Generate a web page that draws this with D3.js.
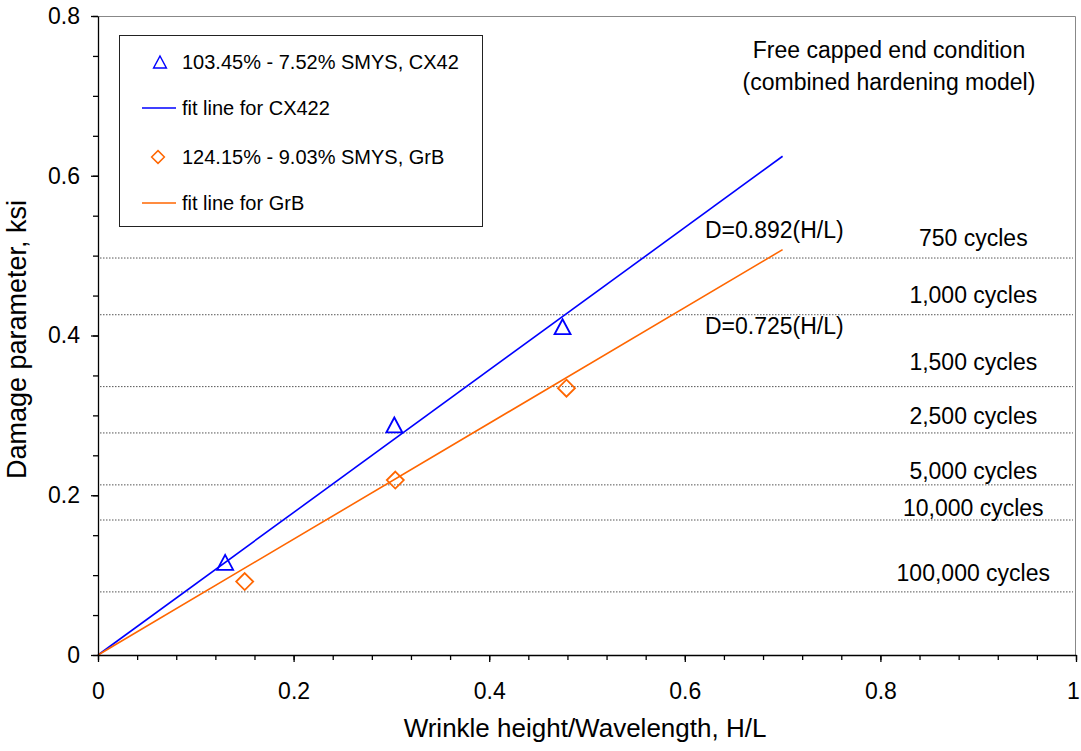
<!DOCTYPE html>
<html>
<head>
<meta charset="utf-8">
<script src="https://cdn.jsdelivr.net/npm/d3@7"></script>
<style>
  body { margin: 0; background: #fff; }
  text { font-family: "Liberation Sans", Arial, sans-serif; fill: #000; }
</style>
</head>
<body>
<script>
// data
var cx42Points = [[0.130, 0.116], [0.303, 0.288], [0.475, 0.411]];
var grbPoints  = [[0.150, 0.092], [0.304, 0.219], [0.479, 0.334]];
var cx42Slope = 0.892;
var grbSlope = 0.725;
var fitEnd = 0.7;
var cycleLevels = [0.497, 0.426, 0.336, 0.278, 0.213, 0.169, 0.079];
var cycleLabels = ["750 cycles", "1,000 cycles", "1,500 cycles", "2,500 cycles",
                   "5,000 cycles", "10,000 cycles", "100,000 cycles"];
var legendLabels = ["103.45% - 7.52% SMYS, CX42", "fit line for CX422",
                    "124.15% - 9.03% SMYS, GrB", "fit line for GrB"];
var xTicks = [0, 0.2, 0.4, 0.6, 0.8, 1];
var yTicks = [0, 0.2, 0.4, 0.6, 0.8];

var blue = "#0000ff", orange = "#ff6600";

// set the dimensions and margins of the graph
var margin = {top: 16, right: 5, bottom: 96, left: 98},
width = 1081 - margin.left - margin.right,
height = 751 - margin.top - margin.bottom;

var x = d3.scaleLinear().domain([0, 1]).range([0, width]);
var y = d3.scaleLinear().domain([0, 0.8]).range([height, 0]);

var svg = d3.select("body").append("svg")
.attr("width", 1081)
.attr("height", 751)
.append("g")
.attr("transform", "translate(" + margin.left + "," + margin.top + ")");

// top and right frame
svg.append("path")
.attr("d", "M0,0.5H" + (width - 0.5) + "V" + height)
.attr("fill", "none").attr("stroke", "#888").attr("stroke-width", 1);

// cycle limit lines
svg.selectAll(".cycle").data(cycleLevels).enter().append("line")
.attr("x1", 2).attr("x2", width - 3)
.attr("y1", function(d) { return y(d); })
.attr("y2", function(d) { return y(d); })
.attr("stroke", "#555").attr("stroke-width", 1)
.attr("stroke-dasharray", "1.5,1.5");

var labelGap = [12, 12, 17, 9, 6, 4, 11];
svg.selectAll(".cycleLabel").data(cycleLevels).enter().append("text")
.attr("x", x(0.895))
.attr("y", function(d, i) { return y(d) - labelGap[i]; })
.attr("text-anchor", "middle")
.style("font-size", "23px")
.text(function(d, i) { return cycleLabels[i]; });

// fit lines
function fitLine(slope, color) {
  svg.append("line")
  .attr("x1", x(0)).attr("y1", y(0))
  .attr("x2", x(fitEnd)).attr("y2", y(slope * fitEnd))
  .attr("stroke", color).attr("stroke-width", 1.6);
}
fitLine(cx42Slope, blue);
fitLine(grbSlope, orange);

// markers
var triPath = "M0,-7.5L8,7.5L-8,7.5Z";
var diaPath = "M0,-8.5L8.5,0L0,8.5L-8.5,0Z";

svg.selectAll(".tri").data(cx42Points).enter().append("path")
.attr("d", triPath)
.attr("transform", function(d) { return "translate(" + x(d[0]) + "," + y(d[1]) + ")"; })
.attr("fill", "none").attr("stroke", blue).attr("stroke-width", 1.8);

svg.selectAll(".dia").data(grbPoints).enter().append("path")
.attr("d", diaPath)
.attr("transform", function(d) { return "translate(" + x(d[0]) + "," + y(d[1]) + ")"; })
.attr("fill", "none").attr("stroke", orange).attr("stroke-width", 1.8);

// equations
svg.append("text").attr("x", 607).attr("y", 222).style("font-size", "23px")
.text("D=" + cx42Slope + "(H/L)");
svg.append("text").attr("x", 607).attr("y", 318).style("font-size", "23px")
.text("D=" + grbSlope + "(H/L)");

// condition note
var note = svg.append("text").attr("text-anchor", "middle").style("font-size", "23px");
note.append("tspan").attr("x", 791).attr("y", 42).text("Free capped end condition");
note.append("tspan").attr("x", 791).attr("y", 74).text("(combined hardening model)");

// axes
var xMinor = d3.range(0, 1.0001, 0.04);
var yMinor = d3.range(0, 0.8001, 0.05);

svg.append("g")
.attr("transform", "translate(0," + height + ")")
.call(d3.axisBottom(x).tickValues(xMinor).tickSize(5).tickFormat(""))
.call(function(g) { g.select(".domain").remove(); });

svg.append("g").call(d3.axisLeft(y).tickValues(yMinor).tickSize(5).tickFormat(""))
.call(function(g) { g.select(".domain").remove(); });

var xAxis = svg.append("g")
.attr("transform", "translate(0," + height + ")")
.call(d3.axisBottom(x).tickValues(xTicks).tickSize(7).tickSizeOuter(0)
  .tickPadding(21).tickFormat(d3.format("")));

// keep the last label inside the window
xAxis.selectAll(".tick text").filter(function(d) { return d === 1; }).attr("dx", -3);

var yAxis = svg.append("g")
.call(d3.axisLeft(y).tickValues(yTicks).tickSize(7).tickSizeOuter(0)
  .tickPadding(11).tickFormat(d3.format("")));

svg.selectAll(".tick line").attr("stroke", "#000").attr("stroke-width", 1.3);
svg.selectAll(".domain").attr("stroke", "#000").attr("stroke-width", 1.3);
svg.selectAll(".tick text").style("font-size", "23px")
.style("font-family", "'Liberation Sans', Arial, sans-serif").attr("fill", "#000");

// axis titles
svg.append("text")
.attr("x", width / 2 - 2).attr("y", 721)
.attr("text-anchor", "middle").style("font-size", "26px")
.text("Wrinkle height/Wavelength, H/L");

svg.append("text")
.attr("transform", "translate(" + (26 - margin.left) + "," + (height / 2 + 4) + ") rotate(-90)")
.attr("text-anchor", "middle").style("font-size", "27px")
.text("Damage parameter, ksi");

// legend
var legend = svg.append("g").attr("transform", "translate(21,19)");
legend.append("rect")
.attr("x", 0.5).attr("y", 0.5).attr("width", 363).attr("height", 191)
.attr("fill", "#fff").attr("stroke", "#222").attr("stroke-width", 1);

var rowY = [27, 73, 122, 168];
legend.selectAll(".lt").data(legendLabels).enter().append("text")
.attr("x", 63)
.attr("y", function(d, i) { return rowY[i] + 7; })
.style("font-size", "20px")
.text(function(d) { return d; });

legend.append("path").attr("d", triPath)
.attr("transform", "translate(41," + rowY[0] + ") scale(0.8)")
.attr("fill", "none").attr("stroke", blue).attr("stroke-width", 1.8);
legend.append("line").attr("x1", 23).attr("x2", 57)
.attr("y1", rowY[1]).attr("y2", rowY[1])
.attr("stroke", blue).attr("stroke-width", 1.6);
legend.append("path").attr("d", diaPath)
.attr("transform", "translate(39," + rowY[2] + ") scale(0.75)")
.attr("fill", "none").attr("stroke", orange).attr("stroke-width", 2);
legend.append("line").attr("x1", 23).attr("x2", 57)
.attr("y1", rowY[3]).attr("y2", rowY[3])
.attr("stroke", orange).attr("stroke-width", 1.6);
</script>
</body>
</html>
